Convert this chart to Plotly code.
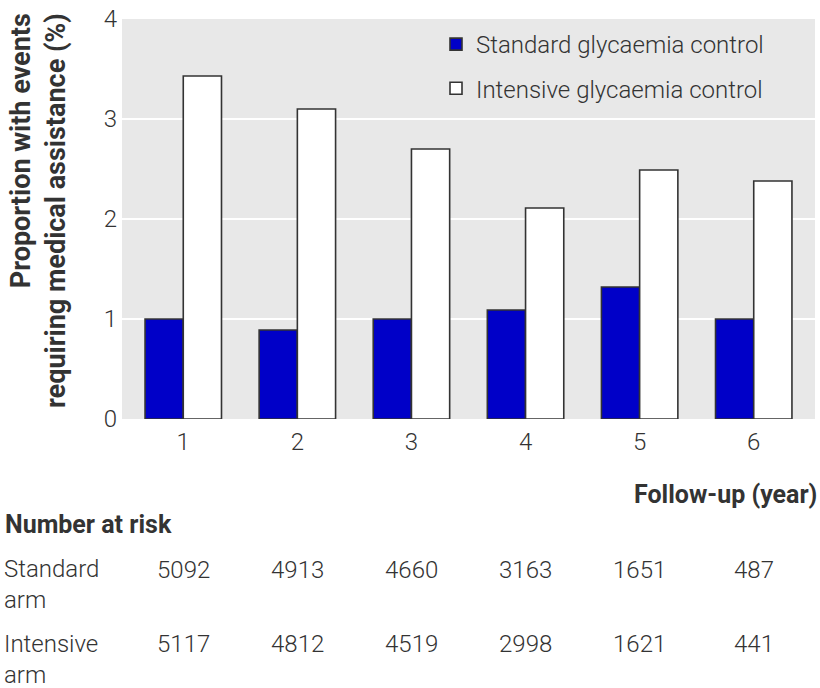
import plotly.graph_objects as go

years = [1, 2, 3, 4, 5, 6]
standard = [1.00, 0.89, 1.00, 1.09, 1.32, 1.00]
intensive = [3.43, 3.10, 2.70, 2.11, 2.49, 2.38]
at_risk_standard = [5092, 4913, 4660, 3163, 1651, 487]
at_risk_intensive = [5117, 4812, 4519, 2998, 1621, 441]

TXT = "#333333"
FONT = "Roboto, sans-serif"

fig = go.Figure()
fig.add_trace(go.Bar(
    x=years, y=standard, name="Standard glycaemia control", legendgroup="a",
    marker=dict(color="#0000C8", line=dict(color="#333333", width=1.6)),
))
fig.add_trace(go.Bar(
    x=years, y=intensive, name="Intensive glycaemia control", legendgroup="b",
    marker=dict(color="white", line=dict(color="#333333", width=1.6)),
))

# plot area spans pixel rows 16..419, columns 122..815
def py(pix):
    return (419 - pix) / 403

def px_(pix):
    return (pix - 122) / 693

light = dict(family=FONT, size=24, color=TXT, weight=300)
bold = dict(family=FONT, size=25, color=TXT, weight=700)

ann = []
ann.append(dict(text="<b>Proportion with events<br>requiring medical assistance (%)</b>",
                xref="paper", yref="paper", x=px_(3), y=py(8),
                xanchor="left", yanchor="top", textangle=-90, align="right",
                font=dict(family=FONT, size=27, color=TXT), showarrow=False))
ann.append(dict(text="<b>Follow-up (year)</b>", xref="paper", yref="paper",
                x=1.0 + 4 / 693, y=py(495), xanchor="right", yanchor="middle",
                font=bold, showarrow=False))
ann.append(dict(text="<b>Number at risk</b>", xref="paper", yref="paper",
                x=px_(3), y=py(525), xanchor="left", yanchor="middle",
                font=bold, showarrow=False))
for label, ypix in [("Standard<br>arm", 586), ("Intensive<br>arm", 661)]:
    ann.append(dict(text=label, xref="paper", yref="paper",
                    x=px_(2), y=py(ypix), xanchor="left", yanchor="middle",
                    align="left", font=light, showarrow=False))
for vals, ypix in [(at_risk_standard, 571), (at_risk_intensive, 646)]:
    for yr, v in zip(years, vals):
        ann.append(dict(text=str(v), xref="x", yref="paper", x=yr, y=py(ypix),
                        xanchor="center", yanchor="middle",
                        font=light, showarrow=False))

fig.update_layout(
    width=820, height=688,
    margin=dict(l=122, r=5, t=16, b=269),
    paper_bgcolor="white", plot_bgcolor="#E8E8E8",
    barmode="group", bargap=0.33, bargroupgap=0,
    font=dict(family=FONT, color=TXT),
    xaxis=dict(range=[0.463, 6.537], tickvals=years, showgrid=False,
               zeroline=False, showline=False, ticks="",
               ticklabelstandoff=6, tickfont=light),
    yaxis=dict(range=[0, 4], tickvals=[0, 1, 2, 3, 4], showgrid=True,
               gridcolor="white", gridwidth=2, zeroline=False, ticks="",
               ticklabelstandoff=4, tickfont=light),
    legend=dict(x=px_(436), y=py(19), xanchor="left", yanchor="top",
                bgcolor="rgba(0,0,0,0)", font=light,
                traceorder="grouped", tracegroupgap=10),
    annotations=ann,
    showlegend=True,
)

fig.write_html("out.html", config={"displayModeBar": False},
               post_script="document.body.style.margin='0';")
